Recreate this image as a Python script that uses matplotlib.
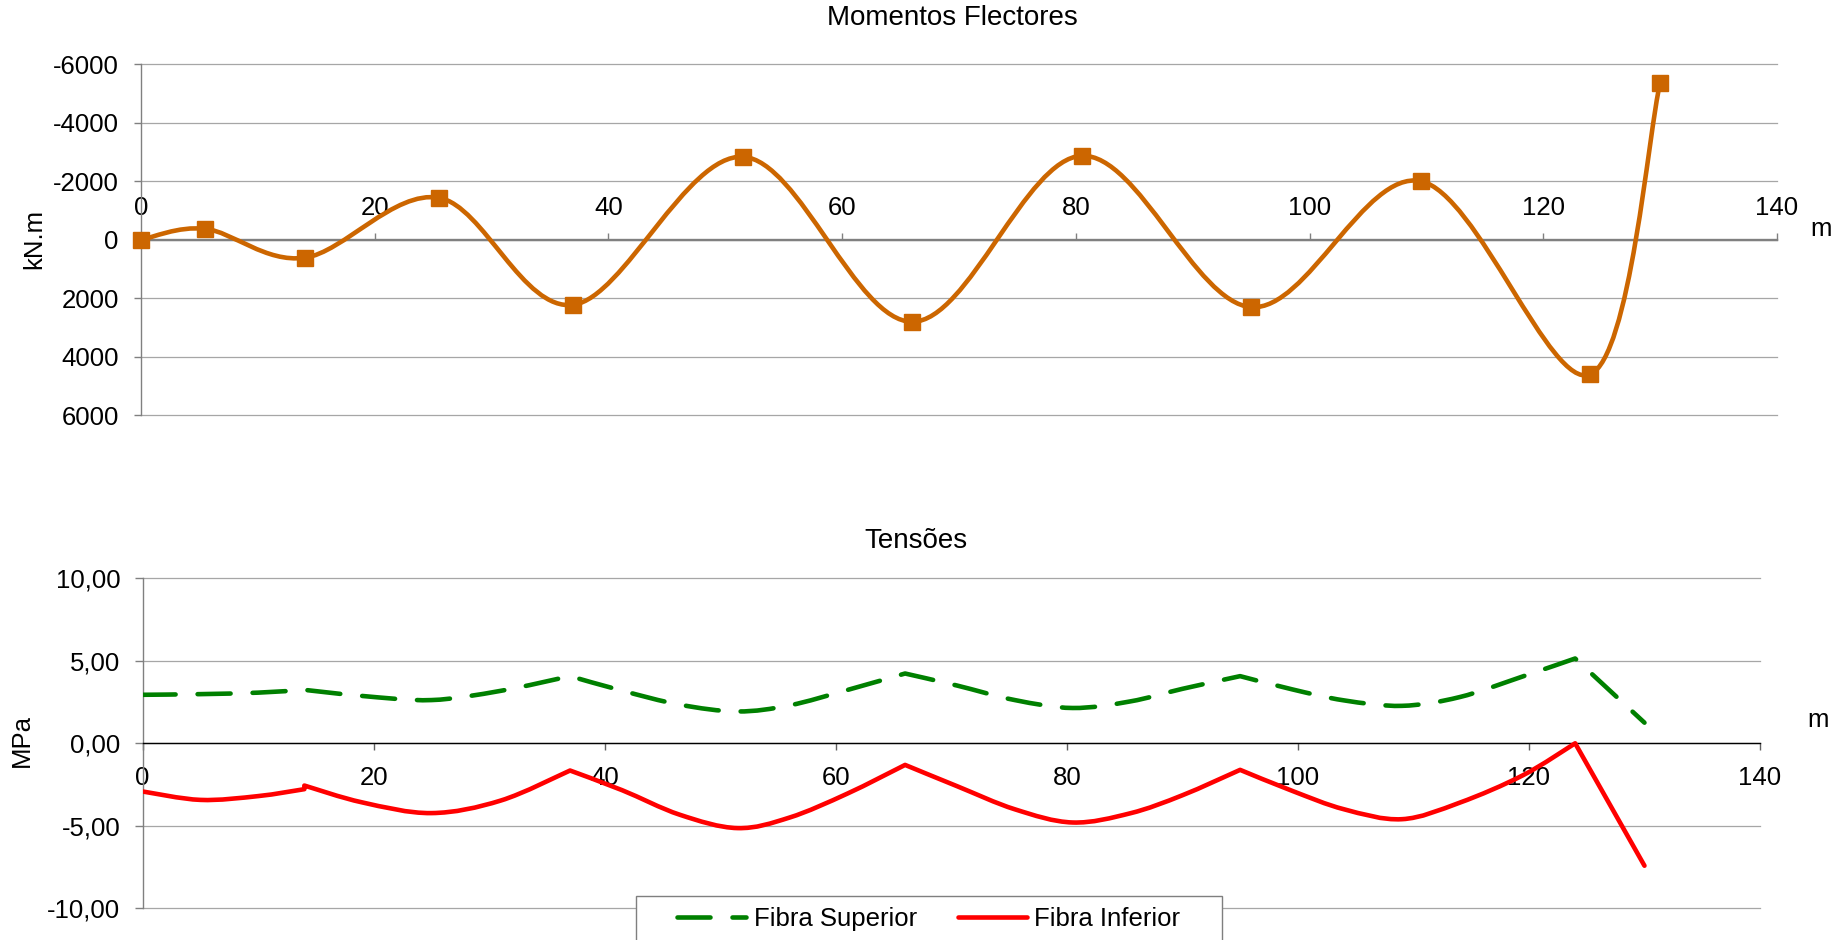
import matplotlib
matplotlib.use("Agg")
import matplotlib.pyplot as plt
from matplotlib.path import Path
from matplotlib.patches import PathPatch, Rectangle
from matplotlib.lines import Line2D
from matplotlib.ticker import FuncFormatter

plt.rcParams['font.family'] = ['Liberation Sans', 'DejaVu Sans']
plt.rcParams['axes.unicode_minus'] = False

# ---------------- data ----------------
# Momentos Flectores (kN.m)
mom_x = [0, 5.5, 14, 25.5, 37, 51.5, 66, 80.5, 95, 109.5, 124, 130]
mom_v = [0, -376, 615, -1436, 2222, -2838, 2803, -2872, 2302, -2006, 4604, -5368]

# Tensões (MPa)
ten_x = [0, 5, 10, 14, 14, 19, 25, 31, 37, 41.5, 46.5, 51.5, 56, 61, 66,
         70.5, 75.5, 80.5, 85.5, 90, 95, 99.5, 104, 109, 114, 119.5, 124, 130]
fibra_sup = [2.94, 2.98, 3.07, 3.24, 3.24, 2.87, 2.62, 3.18, 4.07, 3.19, 2.34, 1.93, 2.30, 3.23, 4.23,
             3.50, 2.62, 2.14, 2.54, 3.30, 4.07, 3.27, 2.60, 2.27, 2.80, 4.06, 5.14, 1.25]
fibra_inf = [-2.92, -3.43, -3.20, -2.78, -2.56, -3.58, -4.23, -3.47, -1.65, -2.84, -4.33, -5.14, -4.50, -3.05, -1.31,
             -2.60, -4.00, -4.80, -4.24, -3.15, -1.61, -2.88, -4.00, -4.60, -3.60, -1.93, 0.00, -7.42]
apoios = [14, 37, 66, 95, 124]

x_ticks = list(range(0, 141, 20))
mom_ticks = list(range(-6000, 6001, 2000))
ten_ticks = [-10, -5, 0, 5, 10]
series_labels = ["Fibra Superior", "Fibra Inferior"]

ORANGE = '#CC6600'
GREEN = '#008000'
RED = '#FF0000'
LW = 3.3
FS = 18.5


def smooth_path(xs, ys, breaks=()):
    """Excel-like smoothed line (Catmull-Rom as cubic Bezier), with kinks at breaks."""
    n = len(xs)
    segs = []
    s = 0
    i = 1
    while i < n:
        if xs[i] in breaks or i == n - 1:
            segs.append((s, i))
            if i + 1 < n and xs[i + 1] == xs[i]:
                s = i + 1
                i += 2
            else:
                s = i
                i += 1
        else:
            i += 1
    verts, codes = [], []
    last = None
    for (a, b) in segs:
        P = list(zip(xs[a:b + 1], ys[a:b + 1]))
        m = len(P)
        if last is None:
            verts.append(P[0]); codes.append(Path.MOVETO)
        elif a != last:
            verts.append(P[0]); codes.append(Path.LINETO)
        for k in range(m - 1):
            p0 = P[k - 1] if k > 0 else P[k]
            p1 = P[k]
            p2 = P[k + 1]
            p3 = P[k + 2] if k + 2 < m else P[k + 1]
            c1 = (p1[0] + (p2[0] - p0[0]) / 6, p1[1] + (p2[1] - p0[1]) / 6)
            c2 = (p2[0] - (p3[0] - p1[0]) / 6, p2[1] - (p3[1] - p1[1]) / 6)
            verts += [c1, c2, p2]
            codes += [Path.CURVE4] * 3
        last = b
    return Path(verts, codes)


W, H = 1845, 940
fig = plt.figure(figsize=(W / 100, H / 100), dpi=100)


def fx(px):
    return px / W


def fy(py):
    return 1 - py / H


# ---------------- top chart ----------------
ax1 = fig.add_axes([fx(141), fy(415.3), fx(1777) - fx(141), fy(64.3) - fy(415.3)])
ax1.set_xlim(0, 140)
ax1.set_ylim(6000, -6000)
ax1.set_xticks(x_ticks)
ax1.set_yticks(mom_ticks)
ax1.yaxis.set_major_formatter(FuncFormatter(lambda v, p: f"{int(v)}"))
for s in ['right', 'bottom']:
    ax1.spines[s].set_visible(False)
ax1.spines['top'].set_position(('data', 0))
ax1.spines['top'].set_color('#808080')
ax1.spines['top'].set_linewidth(1.7)
ax1.spines['left'].set_color('#808080')
ax1.spines['left'].set_linewidth(1.0)
ax1.xaxis.set_ticks_position('top')
ax1.tick_params(axis='x', direction='out', length=5, width=1, color='#808080',
                labelcolor='black', labelsize=FS, pad=9)
ax1.tick_params(axis='y', direction='out', length=5, width=1, color='#808080',
                labelcolor='black', labelsize=FS, pad=11)
ax1.yaxis.grid(True, color='#A6A6A6', lw=0.9)
ax1.set_axisbelow(True)
for gl in ax1.get_ygridlines():
    gl.set_clip_on(False)

ax1.add_patch(PathPatch(smooth_path(mom_x, mom_v), facecolor='none', edgecolor=ORANGE,
                        lw=LW, capstyle='round', joinstyle='round', zorder=3))
ax1.plot(mom_x, mom_v, ls='none', marker='s', ms=11.5, color=ORANGE, zorder=4, clip_on=False)

# ---------------- bottom chart ----------------
ax2 = fig.add_axes([fx(142.6), fy(908.3), fx(1760) - fx(142.6), fy(578.3) - fy(908.3)])
ax2.set_xlim(0, 140)
ax2.set_ylim(-10, 10)
ax2.set_xticks(x_ticks)
ax2.set_yticks(ten_ticks)
ax2.yaxis.set_major_formatter(FuncFormatter(lambda v, p: f"{v:.2f}".replace('.', ',')))
for s in ['right', 'top']:
    ax2.spines[s].set_visible(False)
ax2.spines['bottom'].set_position(('data', 0))
ax2.spines['bottom'].set_color('black')
ax2.spines['bottom'].set_linewidth(1.0)
ax2.spines['left'].set_color('#808080')
ax2.spines['left'].set_linewidth(1.0)
ax2.tick_params(axis='x', direction='out', length=5, width=1, color='#606060',
                labelcolor='black', labelsize=FS, pad=11.5)
ax2.tick_params(axis='y', direction='out', length=6, width=1, color='#808080',
                labelcolor='black', labelsize=FS, pad=10)
ax2.yaxis.grid(True, color='#A6A6A6', lw=0.9)
ax2.set_axisbelow(True)
for gl in ax2.get_ygridlines():
    gl.set_clip_on(False)

ax2.add_patch(PathPatch(smooth_path(ten_x, fibra_sup, apoios), facecolor='none', edgecolor=GREEN,
                        lw=LW, linestyle=(0, (7.2, 4.8)), capstyle='round', joinstyle='round', zorder=3))
ax2.add_patch(PathPatch(smooth_path(ten_x, fibra_inf, apoios), facecolor='none', edgecolor=RED,
                        lw=LW, capstyle='round', joinstyle='round', zorder=3))

# ---------------- texts ----------------
fig.text(fx(952.5), fy(18.3), "Momentos Flectores", ha='center', va='center', fontsize=20)
fig.text(fx(916.3), fy(540.7), "Tensões", ha='center', va='center', fontsize=20)
fig.text(fx(34.6), fy(238.7), "kN.m", ha='center', va='center', rotation=90, fontsize=FS)
fig.text(fx(21.7), fy(740.8), "MPa", ha='center', va='center', rotation=90, fontsize=FS)
fig.text(fx(1821), fy(229.5), "m", ha='center', va='center', fontsize=FS)
fig.text(fx(1818), fy(720), "m", ha='center', va='center', fontsize=FS)

# ---------------- legend ----------------
fig.add_artist(Rectangle((fx(636), fy(980)), fx(1222) - fx(636), fy(896) - fy(980),
                         transform=fig.transFigure, facecolor='white', edgecolor='#7F7F7F',
                         lw=1.0, zorder=3))
handles = [Line2D([], [], color=GREEN, lw=LW, dashes=(7.2, 4.8), dash_capstyle='round'),
           Line2D([], [], color=RED, lw=LW, solid_capstyle='round')]
leg = fig.legend(handles, series_labels, loc='center left', bbox_to_anchor=(fx(677), fy(919)),
                 ncol=2, frameon=False, fontsize=FS, handlelength=2.7, handletextpad=0.28,
                 columnspacing=1.6, borderpad=0, borderaxespad=0)
leg.set_zorder(6)

fig.savefig("out.png", dpi=100)
